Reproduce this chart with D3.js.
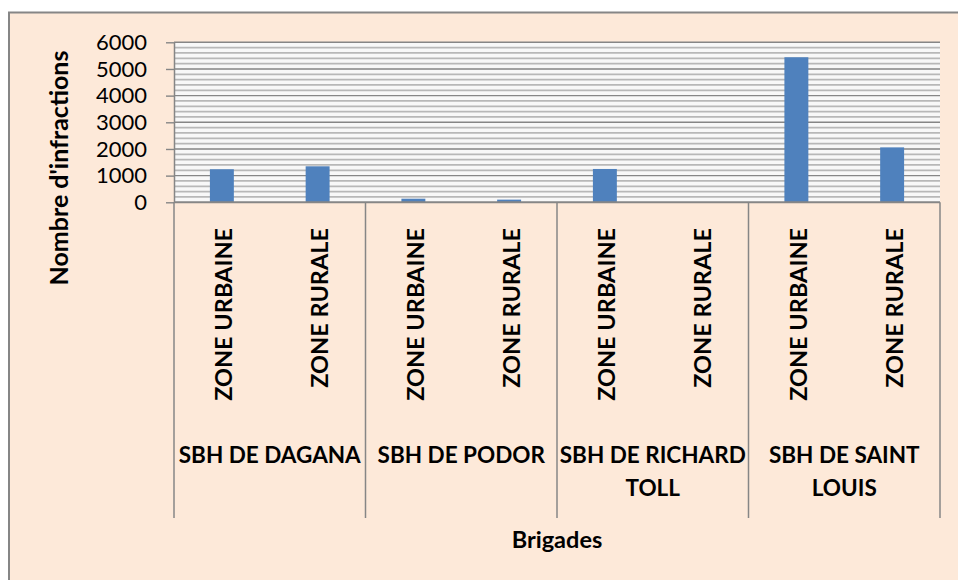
<html>
<head>
<script src="https://d3js.org/d3.v7.min.js"></script>
<style>
  body{margin:0;background:#fff;}
  text{font-family:Lato, "Open Sans", sans-serif;fill:#000;}
  .tick text{font-size:22px;}
  .bold{font-weight:bold;}
</style>
</head>
<body>
<script>

// data
const groups = ["SBH DE DAGANA", "SBH DE PODOR", "SBH DE RICHARD TOLL", "SBH DE SAINT LOUIS"];
const groupLines = [["SBH DE DAGANA"], ["SBH DE PODOR"], ["SBH DE RICHARD", "TOLL"], ["SBH DE SAINT", "LOUIS"]];
const zones = ["ZONE URBAINE", "ZONE RURALE"];
const urbaine = [1240, 135, 1250, 5440];
const rurale = [1350, 100, 0, 2060];
const yTicks = [0, 1000, 2000, 3000, 4000, 5000, 6000];
const minorStep = 200;

const w = 958, h = 580;
const plot = {left:174, right:940, top:42.3, bottom:202.3};

// flat list of bars
const rows = [];
groups.forEach(function(g, i){
  rows.push({group:g, zone:zones[0], key:g+"|"+zones[0], value:urbaine[i]});
  rows.push({group:g, zone:zones[1], key:g+"|"+zones[1], value:rurale[i]});
});

const svg = d3.select("body").append("svg")
  .attr("width", w)
  .attr("height", h);

// chart background + border
svg.append("rect")
  .attr("x", 9).attr("y", 12.5)
  .attr("width", w + 20).attr("height", h + 20)
  .attr("fill", "#fde9d9")
  .attr("stroke", "#868686")
  .attr("stroke-width", 2);

//scales
const y = d3.scaleLinear().domain([0, 6000]).range([plot.bottom, plot.top]);

const xGroup = d3.scaleBand()
  .domain(groups)
  .range([plot.left, plot.right])
  .padding(0);

const x = d3.scaleBand()
  .domain(rows.map(function(d){return d.key;}))
  .range([plot.left, plot.right])
  .paddingInner(0.75)
  .paddingOuter(0.375);

// plot area
svg.append("rect")
  .attr("x", plot.left).attr("y", plot.top)
  .attr("width", plot.right - plot.left)
  .attr("height", plot.bottom - plot.top)
  .attr("fill", "#f8f8f8");

// minor gridlines
const minor = d3.range(0, 6000 + 1, minorStep).filter(function(v){return v % 1000 !== 0;});
svg.append("g").selectAll("line")
  .data(minor)
  .enter().append("line")
  .attr("x1", plot.left).attr("x2", plot.right)
  .attr("y1", function(d){return y(d);})
  .attr("y2", function(d){return y(d);})
  .attr("stroke", "#b8b8b8")
  .attr("stroke-width", 1.8);

// major gridlines
svg.append("g").selectAll("line")
  .data(yTicks.filter(function(v){return v > 0;}))
  .enter().append("line")
  .attr("x1", plot.left).attr("x2", plot.right)
  .attr("y1", function(d){return y(d);})
  .attr("y2", function(d){return y(d);})
  .attr("stroke", "#868686")
  .attr("stroke-width", 1.4);

// bars
svg.append("g").selectAll("rect")
  .data(rows.filter(function(d){return d.value > 0;}))
  .enter().append("rect")
  .attr("x", function(d){return x(d.key);})
  .attr("width", x.bandwidth())
  .attr("y", function(d){return y(d.value);})
  .attr("height", function(d){return plot.bottom - y(d.value);})
  .attr("fill", "#4f81bd");

// y axis
const yAxis = d3.axisLeft(y)
  .tickValues(yTicks)
  .tickFormat(d3.format("d"))
  .tickSizeInner(8)
  .tickSizeOuter(0)
  .tickPadding(19);

const gy = svg.append("g")
  .attr("transform", "translate(" + plot.left + ",0)")
  .call(yAxis);
gy.selectAll("line").attr("stroke", "#868686").attr("stroke-width", 1.4);
gy.select(".domain").attr("stroke", "#868686").attr("stroke-width", 1.5);
gy.selectAll("text").attr("font-size", 22.5).attr("font-family", "Lato").attr("fill", "#000");

// category axis line
svg.append("line")
  .attr("x1", plot.left).attr("x2", plot.right)
  .attr("y1", plot.bottom).attr("y2", plot.bottom)
  .attr("stroke", "#868686").attr("stroke-width", 2);

// group separators
const seps = groups.map(function(g){return xGroup(g);}).concat([plot.right]);
svg.append("g").selectAll("line")
  .data(seps)
  .enter().append("line")
  .attr("x1", function(d){return d;}).attr("x2", function(d){return d;})
  .attr("y1", plot.bottom).attr("y2", 518)
  .attr("stroke", "#868686").attr("stroke-width", 1.5);

// zone labels
svg.append("g").selectAll("text")
  .data(rows)
  .enter().append("text")
  .attr("class", "bold")
  .attr("font-size", 23.5)
  .attr("text-anchor", "end")
  .attr("transform", function(d){
    const cx = x(d.key) + x.bandwidth() / 2 + 10.5;
    return "translate(" + cx + ",228) rotate(-90)";
  })
  .text(function(d){return d.zone;});

// group labels
const gl = svg.append("g").selectAll("text")
  .data(groups)
  .enter().append("text")
  .attr("class", "bold")
  .attr("font-size", 22.5)
  .attr("text-anchor", "middle")
  .attr("x", function(d){return xGroup(d) + xGroup.bandwidth() / 2;})
  .attr("y", 463);
gl.selectAll("tspan")
  .data(function(d, i){return groupLines[i];})
  .enter().append("tspan")
  .attr("x", function(){return d3.select(this.parentNode).attr("x");})
  .attr("dy", function(d, i){return i === 0 ? 0 : 33;})
  .text(function(d){return d;});

// axis titles
svg.append("text")
  .attr("class", "bold")
  .attr("font-size", 25)
  .attr("text-anchor", "middle")
  .attr("transform", "translate(68,168) rotate(-90)")
  .text("Nombre d'infractions");

svg.append("text")
  .attr("class", "bold")
  .attr("font-size", 23.5)
  .attr("text-anchor", "middle")
  .attr("x", (plot.left + plot.right) / 2)
  .attr("y", 548)
  .text("Brigades");

</script>
</body>
</html>
